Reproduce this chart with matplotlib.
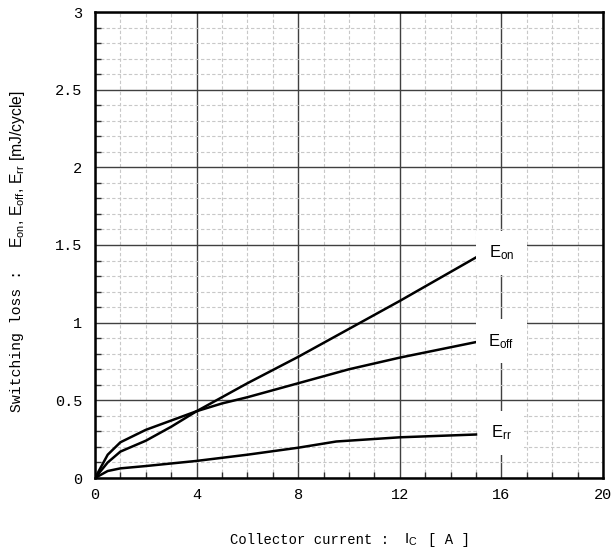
import matplotlib
matplotlib.use("Agg")
import matplotlib.pyplot as plt
from matplotlib.ticker import MultipleLocator

plt.rcParams['mathtext.fontset'] = 'custom'
plt.rcParams['mathtext.rm'] = 'Liberation Sans'
plt.rcParams['mathtext.it'] = 'Liberation Sans'

# Data
ic = [0, 0.5, 1, 2, 3, 4, 6, 8, 10, 12, 15]
eon = [0, 0.10, 0.17, 0.24, 0.33, 0.43, 0.61, 0.78, 0.96, 1.14, 1.42]
ic_off = [0, 0.5, 1, 2, 3, 4, 5, 6, 8, 10, 12, 15]
eoff = [0, 0.15, 0.23, 0.31, 0.37, 0.43, 0.48, 0.52, 0.61, 0.70, 0.775, 0.875]
ic_rr = [0, 0.5, 1, 2, 4, 6, 8, 9.5, 12, 15]
err = [0, 0.045, 0.062, 0.077, 0.11, 0.15, 0.195, 0.235, 0.262, 0.28]

series = [(ic, eon, r'$\mathregular{E_{on}}$', 1.45),
          (ic_off, eoff, r'$\mathregular{E_{off}}$', 0.88),
          (ic_rr, err, r'$\mathregular{E_{rr}}$', 0.29)]

xticks = [0, 4, 8, 12, 16, 20]
yticks = [0, 0.5, 1, 1.5, 2, 2.5, 3]
ytick_labels = ['0', '0.5', '1', '1.5', '2', '2.5', '3']

mono = 'Liberation Mono'

fig = plt.figure(figsize=(6.12, 5.57), dpi=100)
ax = fig.add_axes([95/612, 1-478/557, (603-95)/612, (478-12)/557])

ax.set_xlim(0, 20)
ax.set_ylim(0, 3)
ax.set_xticks(xticks)
ax.set_yticks(yticks)
ax.set_yticklabels(ytick_labels)
ax.xaxis.set_minor_locator(MultipleLocator(1))
ax.yaxis.set_minor_locator(MultipleLocator(0.1))

ax.grid(which='minor', color='#c8c8c8', linestyle=(0, (3, 2)), linewidth=0.8, zorder=0)
ax.grid(which='major', color='#404040', linestyle='-', linewidth=1.0, zorder=1)
ax.set_axisbelow(True)

ax.tick_params(which='major', direction='in', length=0, labelsize=11)
ax.tick_params(axis='y', which='major', pad=9)
ax.tick_params(axis='x', which='major', pad=7)
ax.tick_params(which='minor', direction='in', length=4, width=1, color='#303030')
for lab in ax.get_xticklabels() + ax.get_yticklabels():
    lab.set_fontfamily(mono)

for s in ax.spines.values():
    s.set_linewidth(1.8)
    s.set_color('black')

for xs, ys, name, ly in series:
    ax.plot(xs, ys, color='black', linewidth=1.8, zorder=3)
    ax.text(16, ly, name, ha='center', va='center', fontsize=12,
            family='Liberation Sans', zorder=4,
            bbox=dict(facecolor='white', edgecolor='none', pad=9))

# Y label pieces
fig.text(17/612, 1-412/557, 'Switching loss :', rotation=90, ha='center', va='bottom',
         fontsize=10.7, family=mono)
fig.text(18/612, 1-169/557, r'E$_{\mathregular{on}}$, E$_{\mathregular{off}}$, E$_{\mathregular{rr}}$ [mJ/cycle]',
         rotation=90, ha='center', va='center', fontsize=11.3, family='Liberation Sans')

# X label pieces
fig.text(230/612, 1-540/557, 'Collector current :', ha='left', va='center', fontsize=10, family=mono)
fig.text(404/612, 1-540/557, r'I$_{\mathregular{C}}$', ha='left', va='center', fontsize=11, family='Liberation Sans')
fig.text(428/612, 1-540/557, '[ A ]', ha='left', va='center', fontsize=10, family=mono)

fig.savefig('out.png', dpi=100)
